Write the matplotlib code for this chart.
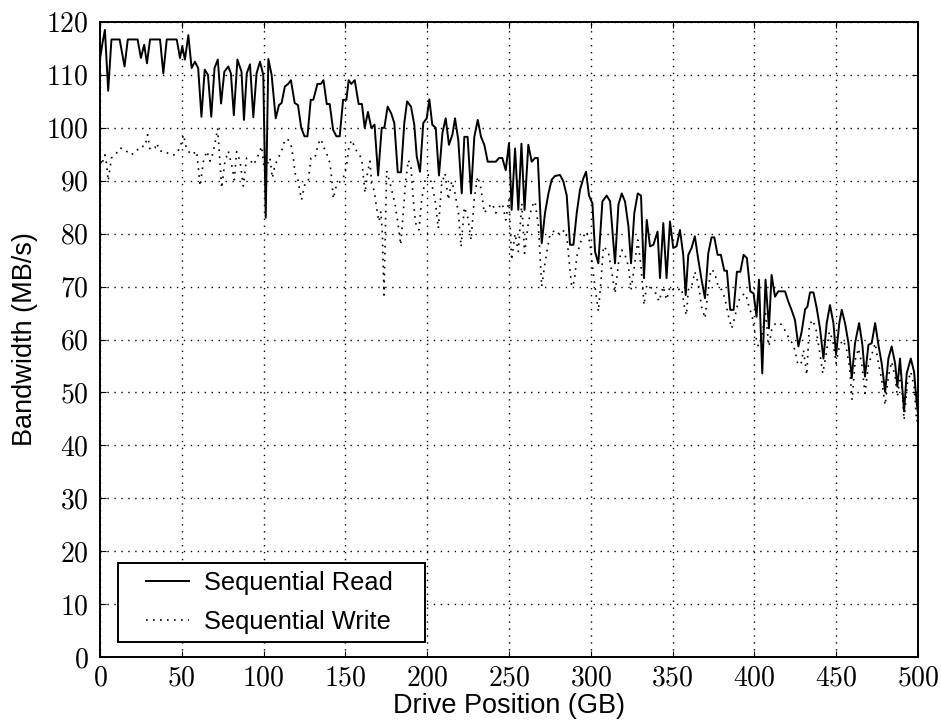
#!/usr/bin/env python3
"""Sequential read/write bandwidth across the drive surface."""

import matplotlib

matplotlib.use("Agg")
import matplotlib.pyplot as plt
from matplotlib.legend_handler import HandlerLine2D
from matplotlib.ticker import FuncFormatter, MultipleLocator


# Drive position (GB) and bandwidth (MB/s).
READ_X = [
    0, 1.5, 3, 5, 7, 12, 15, 17, 23, 25, 27, 28.7, 30.6, 36.7, 38.7, 40.8,
    46.9, 48.9, 50.3, 51.9, 54, 56, 58, 60, 62, 64, 66, 68, 70, 72, 74, 76,
    78.4, 80, 81.8, 84, 86.5, 88, 89.7, 91.7, 93.7, 95.7, 97.8, 99.8, 101.3,
    102.9, 104.9, 107.4, 109.4, 111, 113, 115, 116.7, 119, 121, 123, 125,
    126.8, 128.8, 130.4, 132.9, 135, 136.6, 138.6, 140.4, 142.5, 144.5,
    146.5, 148.6, 150.6, 152, 153.6, 155.7, 158.1, 160.1, 161.8, 163.8,
    165.8, 167.8, 170, 172.2, 173.8, 175.8, 177.9, 179.9, 182, 184, 186,
    187.7, 190.1, 192.1, 193.6, 195.6, 197.6, 199.7, 201.3, 203.1, 205.2,
    207.2, 209.3, 211.3, 213.3, 215.4, 217, 219, 221.1, 222.7, 224.7, 226.8,
    228.8, 230.9, 232.9, 234.9, 237, 239.4, 241.9, 243.9, 245.9, 248, 250,
    251.6, 253.7, 255.7, 257.6, 259.5, 261.8, 263.9, 265.9, 267.6, 270, 272,
    274.1, 276.1, 278.1, 281.2, 283.2, 285.3, 287.3, 289.4, 291.4, 293.4,
    295.5, 297.1, 298.9, 301, 302.6, 304.6, 307.1, 309.7, 311.8, 314.8,
    316.9, 318.9, 320.9, 323, 324.6, 326.6, 328.7, 330.7, 332.5, 334.2,
    336.2, 338.3, 340.8, 342.3, 344.3, 346.3, 348.4, 350.4, 352.4, 354.5,
    356.5, 358, 359.6, 361.6, 363.6, 365.7, 367.7, 369.8, 371.8, 373.8,
    375.5, 377.5, 379.5, 381.6, 383.2, 385.2, 387.3, 389.3, 391.4, 393.4,
    395.4, 397.5, 399.5, 401.3, 402.8, 404.8, 406.8, 408.9, 410.5, 412.6,
    414.6, 416.6, 418.7, 420.7, 422.7, 424.8, 426.9, 428.9, 431, 432.4, 434,
    436.1, 438.1, 440.1, 442.2, 444.2, 446.2, 448.3, 449.9, 451.9, 453.4,
    455.4, 457.5, 459.5, 461.5, 464, 466, 467.6, 469.7, 471.7, 473.8, 475.8,
    477.8, 479.9, 481.9, 483.9, 486, 487.4, 489, 491.5, 493.1, 495.6, 497.6,
    499.2, 500,
]
READ_Y = [
    113, 116, 118.5, 107, 116.7, 116.7, 111.6, 116.7, 116.7, 113.2, 115.7,
    112.2, 116.7, 116.7, 110.3, 116.7, 116.7, 113.2, 115.4, 112.9, 117.5,
    111.3, 112.5, 111.3, 102.1, 111, 110, 102.1, 111.3, 112.9, 104.6, 110.6,
    111.6, 110.3, 102.4, 112.9, 110.6, 101.5, 110.3, 112, 102, 110.3, 112.5,
    110, 83, 113, 110, 101.8, 104.3, 104.7, 107.8, 108.3, 109, 104.7, 104.3,
    100, 98.4, 98.4, 105.3, 105.3, 108.3, 108.3, 109, 104.5, 104.5, 99.6,
    98.4, 98.4, 105.3, 105.3, 109, 108.3, 109, 104.5, 104.5, 100, 103, 100,
    100.6, 91, 100, 100, 104, 102.8, 100.9, 91.6, 91.6, 100.9, 105, 104,
    100.6, 94.6, 91.7, 100.9, 101.8, 105.4, 100.6, 100, 91, 99, 101.8, 96.8,
    98.7, 101.8, 97.7, 87.6, 98.3, 98.3, 87.6, 98.3, 101.5, 98.3, 96.8, 93.6,
    93.6, 93.6, 94.3, 94.3, 92, 97.1, 84.5, 96.1, 84.5, 97, 84.5, 96.8, 93.6,
    94.3, 94.3, 78.2, 83.9, 87.6, 90.2, 90.9, 91.1, 89.9, 87.2, 77.9, 77.9,
    83.9, 88.3, 90.5, 91.7, 87.2, 85.7, 76.6, 74.4, 86.1, 87.2, 86.1, 74.4,
    85.5, 87.6, 86.1, 81.4, 74.4, 83.9, 87.6, 87.2, 71.6, 82.6, 77.6, 77.9,
    80.4, 71.6, 82, 71.6, 82.3, 77.3, 77.6, 80.7, 76, 68.4, 76, 77.3, 79.5,
    75.1, 71.3, 67.8, 76.3, 79.3, 79.3, 76, 76, 73, 73, 65.6, 65.6, 72.8,
    72.8, 76, 75.4, 69.1, 68.7, 64.3, 71.3, 53.6, 71.3, 62.1, 72.2, 68.1,
    69.1, 69.1, 69.1, 67.2, 65.6, 63.7, 58.7, 61.5, 65.7, 66.2, 68.9, 68.9,
    65.9, 62.1, 56.4, 63.1, 66.5, 63.1, 57.1, 63.1, 65.6, 63.1, 59.3, 52.7,
    59.3, 63.1, 59, 53, 59, 59.3, 63.1, 59, 55.5, 50.1, 56.4, 58.7, 55.5,
    51.1, 56.4, 46.4, 53.6, 56.4, 53.9, 48, 46,
]

WRITE_X = [
    0, 1, 3, 4, 5, 7, 10, 12.2, 15.3, 18.3, 21.4, 24.5, 27.5, 29.1, 30.6,
    33.6, 34.6, 36.7, 39.7, 42.8, 45.9, 48.9, 51, 53, 56.1, 59.1, 61.2, 63.2,
    65.3, 67.3, 68.7, 70.3, 71.9, 73.3, 74.4, 76.4, 78.4, 80.5, 82.1, 83.5,
    85.6, 87.6, 89.6, 91.7, 93.7, 95.7, 98.8, 100.5, 103.9, 105.3, 107, 109,
    111.4, 113, 114.7, 116.7, 118.2, 119.2, 120.8, 122.2, 123.2, 125.3,
    127.3, 129, 131.4, 133.4, 135.1, 136.5, 138.5, 140.6, 141.6, 142.6,
    144.6, 146.7, 148.7, 150.8, 152.2, 153.8, 155.8, 157.5, 159.9, 160.9,
    162, 163.6, 165, 166, 167.7, 169.1, 170.5, 171.7, 172.6, 173.6, 175.2,
    177.3, 180.3, 182.4, 183.8, 185.4, 186.8, 188.5, 190.1, 191.5, 192.9,
    195, 196.6, 198.7, 200.7, 202.7, 204.8, 206.8, 208.9, 210.9, 212.9, 215,
    217, 219, 220.7, 222.7, 224.7, 226.8, 228.8, 230.9, 232.9, 234.9, 237.4,
    239.8, 241.9, 243.9, 245.9, 248, 250, 251.6, 253.7, 255.7, 257.8, 259.5,
    261.8, 263.9, 265.9, 268, 270, 272, 273.7, 275.1, 278.1, 281.2, 283.9,
    285.3, 286.7, 288.3, 290, 291.4, 293.4, 295.5, 297.5, 299.5, 301.6,
    303.6, 304.6, 306.3, 307.7, 310.7, 312.8, 314.8, 316.9, 318.9, 320.9,
    323, 324.6, 326.6, 328.7, 330.7, 332.5, 334.2, 336.2, 339.3, 341.7,
    344.3, 346.3, 348.4, 351.4, 355.5, 357.5, 358.5, 359.6, 361.6, 363.6,
    365.7, 367.7, 369.8, 371.4, 373.4, 375.5, 377.9, 379.9, 382, 384, 386.1,
    388.1, 390.1, 392.6, 394.6, 396.7, 398.7, 400.3, 402.4, 404.4, 406.8,
    408.9, 410.5, 413, 415.6, 417.6, 420.7, 423.1, 424.8, 426.4, 428.4, 430,
    432, 433.6, 435.7, 437.7, 439.7, 441.8, 443.8, 445.8, 447.9, 449.9,
    451.9, 454, 456, 458.1, 459.7, 461.7, 463.6, 465.6, 467.6, 469.7, 471.7,
    473.8, 475.8, 477.8, 479.9, 481.9, 483.9, 486, 487.4, 489.5, 491.5,
    493.5, 495.6, 497.6, 499.2, 500,
]
WRITE_Y = [
    95, 93, 94.9, 93.3, 90, 94.3, 95.2, 96.2, 95.9, 94.9, 95.2, 96.5, 96.5,
    98.7, 95.9, 96.2, 97.1, 95.6, 95.6, 94.9, 94.9, 96.2, 98.7, 95.9, 94.9,
    95.6, 89, 93.7, 95.6, 93.7, 94.9, 97.1, 99.9, 93.7, 88.6, 93.7, 95.6, 93,
    90.2, 95.5, 93.7, 89, 94.3, 94, 93, 94, 96.5, 92, 94.3, 90.5, 93, 94.3,
    96, 97.7, 97.9, 96.8, 94.3, 91.4, 90.5, 88, 86.4, 89.5, 90, 94.3, 94.3,
    97, 97.9, 96.5, 95.2, 93.3, 90.5, 86.6, 89.2, 89.8, 90.5, 93, 96.5, 97.7,
    96.3, 95.2, 94.3, 91, 87.7, 91.7, 93.7, 89.5, 88, 84.8, 82.3, 84.2, 79.8,
    68.4, 91.9, 89.5, 85.7, 81.3, 77.9, 84.1, 90, 93.9, 92.6, 86.4, 82, 80.7,
    86.4, 90, 91.1, 89.5, 86.4, 81, 89.5, 91.4, 86.4, 89.9, 87.6, 84.1, 77.5,
    85, 83.2, 78.8, 86.7, 90.8, 88.5, 83.9, 85, 85.7, 83.9, 85, 85.7, 82.6,
    86.4, 75, 80, 76.6, 85.7, 76.3, 82, 85.1, 86.1, 81.4, 70, 74.4, 77.6,
    79.8, 80.7, 79.8, 80.7, 79.5, 75, 70, 71, 75.6, 78.2, 79.5, 80.4, 78.2,
    72.2, 67.5, 65.3, 71.3, 77.6, 76.6, 72.8, 68.7, 74.4, 76.9, 76, 73.8,
    69.4, 73.8, 78.8, 73.8, 66.5, 70.3, 70, 69, 67.2, 70, 67.5, 70, 69.1,
    69.7, 65.6, 64.6, 69.4, 70, 72.8, 70.6, 66.2, 64, 68.4, 73.2, 72.8, 70,
    69.4, 67.8, 64.6, 62.1, 64.3, 67.2, 68.4, 68.7, 66.2, 64.3, 61.2, 58.7,
    60.5, 64.9, 58.7, 61.8, 63.1, 63.1, 62.4, 60.5, 59.3, 58, 55.5, 55.2, 58,
    53.3, 62.8, 63.7, 61.8, 58, 53.6, 57.1, 61.5, 59.9, 55.5, 58.7, 59.9,
    58.7, 54.9, 48.6, 56.2, 58.3, 55.5, 49.8, 55.2, 57.1, 59.3, 55.5, 52.4,
    47.6, 53, 55.8, 53, 49.2, 53.6, 44.8, 51.7, 53.9, 51.1, 44.5, 45,
]

SERIES_LABELS = ["Sequential Read", "Sequential Write"]


class LeadLineHandler(HandlerLine2D):
    """Legend line drawn over the right part of its handle box only."""

    def __init__(self, lead, **kwargs):
        super().__init__(**kwargs)
        self.lead = lead

    def get_xdata(self, legend, xdescent, ydescent, width, height, fontsize):
        xdata, xmarker = super().get_xdata(
            legend, xdescent, ydescent, width, height, fontsize
        )
        return [xdata[0] + self.lead * fontsize, xdata[-1]], xmarker


def main() -> None:
    plt.rcParams.update({
        "font.family": ["Liberation Sans", "DejaVu Sans"],
        "mathtext.fontset": "cm",
        "font.size": 19.5,
        "axes.linewidth": 1.4,
        "xtick.direction": "in",
        "ytick.direction": "in",
        "xtick.top": True,
        "ytick.right": True,
        "xtick.major.size": 4,
        "ytick.major.size": 4,
        "xtick.major.pad": 6,
        "ytick.major.pad": 8,
    })

    fig = plt.figure(figsize=(9.41, 7.23), dpi=100)
    ax = fig.add_axes([100 / 941, 66 / 723, 818 / 941, 635 / 723])

    read_line, = ax.plot(READ_X, READ_Y, color="black", linewidth=1.4,
                         label=SERIES_LABELS[0])
    write_line, = ax.plot(WRITE_X, WRITE_Y, color="black", linewidth=1.2,
                          linestyle=(0, (1, 3.2)), label=SERIES_LABELS[1])

    ax.set_xlim(0, 500)
    ax.set_ylim(0, 120)
    ax.xaxis.set_major_locator(MultipleLocator(50))
    ax.yaxis.set_major_locator(MultipleLocator(10))
    tex = FuncFormatter(lambda v, _: f"${v:.0f}$")
    ax.xaxis.set_major_formatter(tex)
    ax.yaxis.set_major_formatter(tex)
    ax.tick_params(labelsize=20)
    ax.grid(True, color="black", linestyle=(0, (1, 4)), linewidth=1.0)

    ax.set_xlabel("Drive Position (GB)", labelpad=1)
    ax.set_ylabel("Bandwidth (MB/s)", labelpad=6)

    handler = LeadLineHandler(0.8)
    leg = ax.legend(
        handler_map={read_line: handler, write_line: handler},
        loc="lower left",
        bbox_to_anchor=(18 / 818, 15 / 635, 307 / 818, 77 / 635),
        mode="expand",
        borderaxespad=0,
        fancybox=False,
        framealpha=1,
        edgecolor="black",
        fontsize=18.3,
        handlelength=2.5,
        handletextpad=0.6,
        borderpad=0.3,
        labelspacing=0.62,
    )
    leg.get_frame().set_linewidth(1.4)

    fig.savefig("out.png", dpi=100)
    plt.close(fig)


if __name__ == "__main__":
    main()
